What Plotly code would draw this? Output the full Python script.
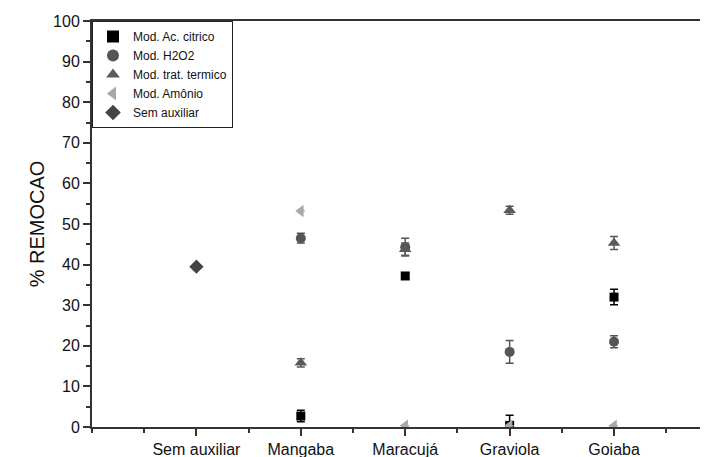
import plotly.graph_objects as go

categories = ["Sem auxiliar", "Mangaba", "Maracujá", "Graviola", "Goiaba"]
cat_pos = [1, 2, 3, 4, 5]

# series values (None = no point)
ac_citrico = [None, 2.7, 37.2, 0.4, 32.0]
ac_citrico_err = [None, 1.4, 0.8, 2.5, 1.9]
h2o2 = [None, 46.5, 44.3, 18.5, 21.0]
h2o2_err = [None, 1.2, 2.2, 2.8, 1.5]
termico = [None, 15.8, 43.8, 53.4, 45.3]
termico_err = [None, 1.0, 1.5, 1.0, 1.6]
amonio = [None, 53.2, 0.3, 0.3, 0.3]
amonio_err = [None, 0.0, 0.0, 0.0, 0.0]
sem_aux = [39.5, None, None, None, None]

series = [
    ("Mod. Ac. citrico", ac_citrico, ac_citrico_err, "square", "#000000", 9),
    ("Mod. H2O2", h2o2, h2o2_err, "circle", "#555555", 10),
    ("Mod. trat. termico", termico, termico_err, "triangle-up", "#5a5a5a", 11),
    ("Mod. Amônio", amonio, amonio_err, "triangle-left", "#a8a8a8", 11),
    ("Sem auxiliar", sem_aux, None, "diamond", "#444444", 11),
]

fig = go.Figure()
for name, vals, err, sym, col, sz in series:
    kw = {}
    if err is not None:
        kw["error_y"] = dict(type="data", array=[e if e is not None else 0 for e in err],
                             visible=True, color=col, thickness=1.5, width=4)
    fig.add_trace(go.Scatter(
        x=cat_pos, y=vals, mode="markers", name=name,
        marker=dict(symbol=sym, color=col, size=sz, line=dict(width=0)),
        **kw))

# page body has an 8px default margin, so the figure is sized to fit the window
fig.update_layout(
    width=700, height=449,
    margin=dict(l=84, r=0, t=13, b=30, autoexpand=False),
    paper_bgcolor="white", plot_bgcolor="white",
    font=dict(family="Liberation Sans, Arial, sans-serif", color="#111111"),
    showlegend=True,
    legend=dict(x=0, y=1, xanchor="left", yanchor="top",
                bordercolor="#222222", borderwidth=1, bgcolor="white",
                font=dict(size=12), tracegroupgap=0, itemsizing="constant"),
    xaxis=dict(range=[0, 5.9], tickvals=cat_pos, ticktext=categories,
               automargin=False,
               showgrid=False, zeroline=False, showline=True, linecolor="#333333",
               linewidth=2, mirror=True, ticks="outside", ticklen=7, tickwidth=1.5,
               tickcolor="#333333", tickfont=dict(size=16),
               minor=dict(dtick=0.5, tick0=0.5, ticks="outside", ticklen=4,
                          tickcolor="#333333", tickwidth=1.5)),
    yaxis=dict(range=[0, 100], dtick=10, showgrid=False, zeroline=False,
               automargin=False,
               showline=True, linecolor="#333333", linewidth=2,
               ticks="outside", ticklen=7, tickwidth=1.5, tickcolor="#333333",
               tickfont=dict(size=16),
               title=dict(text="% REMOCAO", font=dict(size=20), standoff=3),
               minor=dict(dtick=5, ticks="outside", ticklen=4,
                          tickcolor="#333333", tickwidth=1.5)),
)

fig.write_html("out.html")
